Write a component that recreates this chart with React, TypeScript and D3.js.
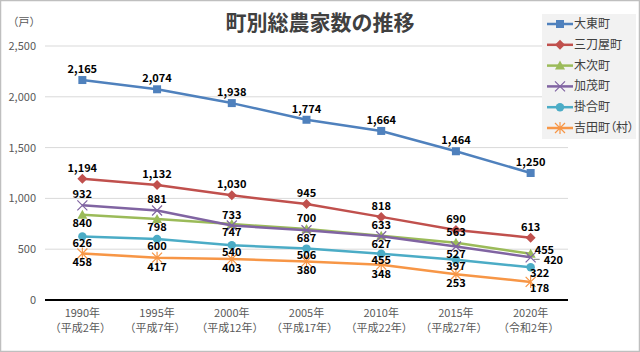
import React from "react";
import * as d3 from "d3";

const years = ["1990年", "1995年", "2000年", "2005年", "2010年", "2015年", "2020年"];
const eras = ["（平成2年）", "（平成7年）", "（平成12年）", "（平成17年）", "（平成22年）", "（平成27年）", "（令和2年）"];
const yTicks = [0, 500, 1000, 1500, 2000, 2500];

const daito = [2165, 2074, 1938, 1774, 1664, 1464, 1250];
const mikataya = [1194, 1132, 1030, 945, 818, 690, 613];
const kisuki = [840, 798, 747, 700, 633, 563, 455];
const kamo = [932, 881, 733, 687, 627, 527, 420];
const kakeya = [626, 600, 540, 506, 455, 397, 322];
const yoshida = [458, 417, 403, 380, 348, 253, 178];

const seriesNames = ["大東町", "三刀屋町", "木次町", "加茂町", "掛合町", "吉田町（村）"];
// label placement per point: a=above, b=below, bl=below (lower), r=right
const posDaito = ["a", "a", "a", "a", "a", "a", "a"];
const posMikataya = ["a", "a", "a", "a", "a", "a", "a"];
const posKisuki = ["b", "b", "b", "a", "a", "a", "r"];
const posKamo = ["a", "a", "a", "b", "b", "b", "r2"];
const posKakeya = ["bs", "bs", "bs", "bs", "bs", "bs", "br"];
const posYoshida = ["bl", "bl", "bl", "bl", "bl", "bl", "br"];

const series = [
  { name: seriesNames[0], values: daito, pos: posDaito, color: "#4F81BD", marker: "square" },
  { name: seriesNames[1], values: mikataya, pos: posMikataya, color: "#C0504D", marker: "diamond" },
  { name: seriesNames[2], values: kisuki, pos: posKisuki, color: "#9BBB59", marker: "triangle" },
  { name: seriesNames[3], values: kamo, pos: posKamo, color: "#8064A2", marker: "x" },
  { name: seriesNames[4], values: kakeya, pos: posKakeya, color: "#4BACC6", marker: "circle" },
  { name: seriesNames[5], values: yoshida, pos: posYoshida, color: "#F79646", marker: "star" },
];

const FONT = "'Noto Sans CJK JP', 'Noto Sans', sans-serif";

function Marker({ type, x, y, color }: { type: string; x: number; y: number; color: string }) {
  switch (type) {
    case "square":
      return <rect x={x - 4} y={y - 4} width={8} height={8} fill={color} />;
    case "diamond":
      return <path d={`M${x},${y - 5}L${x + 5},${y}L${x},${y + 5}L${x - 5},${y}Z`} fill={color} />;
    case "triangle":
      return <path d={`M${x},${y - 5}L${x + 5},${y + 4}L${x - 5},${y + 4}Z`} fill={color} />;
    case "x":
      return (
        <path d={`M${x - 5},${y - 5}L${x + 5},${y + 5}M${x + 5},${y - 5}L${x - 5},${y + 5}`} stroke={color} strokeWidth={1.2} fill="none" />
      );
    case "circle":
      return <circle cx={x} cy={y} r={4.2} fill={color} />;
    case "star":
      return (
        <path
          d={`M${x - 5},${y - 5}L${x + 5},${y + 5}M${x + 5},${y - 5}L${x - 5},${y + 5}M${x},${y - 6}L${x},${y + 6}`}
          stroke={color}
          strokeWidth={1.2}
          fill="none"
        />
      );
  }
  return null;
}

export default function App() {
  const W = 640;
  const H = 352;
  const left = 45;
  const right = 568;
  const x = d3.scaleBand<string>().domain(years).range([left, right]);
  const y = d3.scaleLinear().domain([0, 2500]).range([300, 46]);
  const cx = (i: number) => (x(years[i]) as number) + x.bandwidth() / 2;
  const line = d3
    .line<number>()
    .x((_, i) => cx(i))
    .y((v) => y(v));
  const fmt = d3.format(",");

  const labelPos = (p: string, px: number, py: number) => {
    if (p === "a") return { lx: px, ly: py - 7, anchor: "middle" };
    if (p === "b") return { lx: px, ly: py + 12, anchor: "middle" };
    if (p === "bs") return { lx: px, ly: py + 10.5, anchor: "middle" };
    if (p === "bl") return { lx: px, ly: py + 13, anchor: "middle" };
    if (p === "r") return { lx: px + 4, ly: py, anchor: "start" };
    if (p === "r2") return { lx: px + 13, ly: py + 7, anchor: "start" };
    return { lx: px + 9, ly: py + 10, anchor: "middle" };
  };

  return (
    <div style={{ position: "fixed", left: 0, top: 0 }}>
      <svg width={W} height={H} style={{ display: "block" }} fontFamily={FONT}>
        <rect x={0.5} y={0.5} width={W - 1} height={H - 1} fill="#fff" stroke="#BFBFBF" strokeWidth={1.5} />
        <text x={320} y={30} textAnchor="middle" fontSize={21} fontWeight="bold" fill="#404040">
          町別総農家数の推移
        </text>
        <text x={24} y={26} textAnchor="middle" fontSize={11} fill="#595959">
          （戸）
        </text>
        {yTicks.map((t) => (
          <g key={t}>
            {t > 0 && <line x1={left} x2={right} y1={y(t)} y2={y(t)} stroke="#D9D9D9" strokeWidth={1} />}
            <text x={36} y={y(t) + 4} textAnchor="end" fontSize={11} fill="#595959">
              {fmt(t)}
            </text>
          </g>
        ))}
        <line x1={left} x2={right} y1={y(0)} y2={y(0)} stroke="#000" strokeWidth={2} />
        {years.map((yr, i) => (
          <g key={yr}>
            <text x={cx(i)} y={317} textAnchor="middle" fontSize={11} fill="#595959">
              {yr}
            </text>
            <text x={cx(i) - 2} y={332} textAnchor="middle" fontSize={11} fill="#595959">
              {eras[i]}
            </text>
          </g>
        ))}
        {series.map((s) => (
          <g key={s.name}>
            <path d={line(s.values) || ""} fill="none" stroke={s.color} strokeWidth={2.5} strokeLinejoin="round" />
            {s.values.map((v, i) => (
              <Marker key={i} type={s.marker} x={cx(i)} y={y(v)} color={s.color} />
            ))}
          </g>
        ))}
        <line x1={cx(6) + 3} x2={cx(6) + 9} y1={y(420) + 2} y2={y(420) + 2} stroke="#808080" strokeWidth={1} />
        {series.map((s) =>
          s.values.map((v, i) => {
            const { lx, ly, anchor } = labelPos(s.pos[i], cx(i), y(v));
            return (
              <text
                key={s.name + i}
                x={lx}
                y={ly}
                textAnchor={anchor as any}
                fontSize={11}
                fontWeight="bold"
                fill="#000"
              >
                {fmt(v)}
              </text>
            );
          })
        )}
        <rect x={542} y={14} width={94} height={125} fill="#F2F2F2" />
        {series.map((s, i) => {
          const ly = 24 + i * 20.8;
          return (
            <g key={"lg" + s.name}>
              <line x1={547} x2={573} y1={ly} y2={ly} stroke={s.color} strokeWidth={2.5} />
              <Marker type={s.marker} x={560} y={ly} color={s.color} />
              <text x={574} y={ly + 4} fontSize={12} fill="#404040" style={{ fontFeatureSettings: "'palt'" }}>
                {s.name}
              </text>
            </g>
          );
        })}
      </svg>
    </div>
  );
}
